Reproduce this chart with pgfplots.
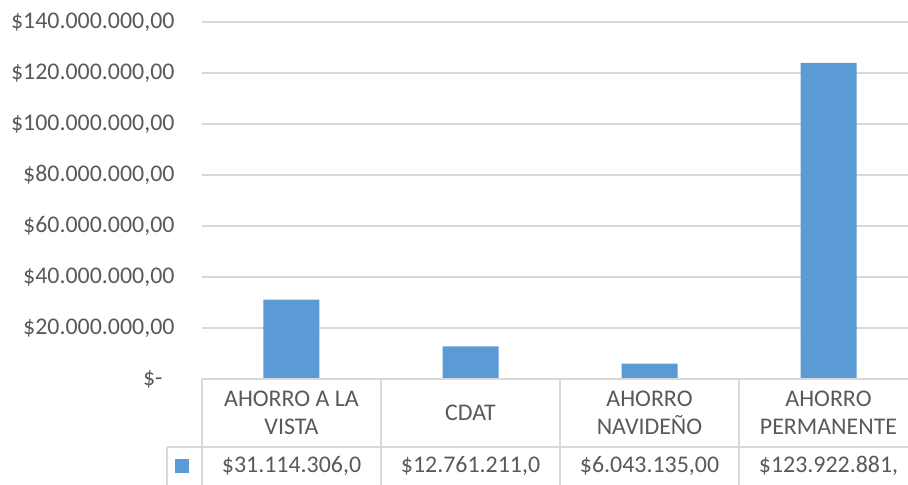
\documentclass[border=0pt]{standalone}
\usepackage{pgfplots}
\pgfplotsset{compat=1.18}
\usepackage{fontspec}
\setmainfont{Carlito}
\definecolor{barblue}{HTML}{5B9BD5}
\definecolor{gridgrey}{HTML}{D9D9D9}
\definecolor{txtgrey}{HTML}{595959}
\begin{document}
\begin{tikzpicture}
\clip (-202bp,-106bp) rectangle (706bp,379bp);
\begin{axis}[
  at={(0,0)}, anchor=south west,
  scale only axis,
  width=716bp, height=357bp,
  xmin=-0.5, xmax=3.5,
  ymin=0, ymax=140000000,
  scaled y ticks=false,
  axis line style={draw=none},
  major tick length=0pt,
  ymajorgrids,
  grid style={gridgrey, line width=1.3bp},
  ytick={0,20000000,40000000,60000000,80000000,100000000,120000000,140000000},
  yticklabels={\$-\hspace*{12bp},\$20.000.000{,}00,\$40.000.000{,}00,\$60.000.000{,}00,\$80.000.000{,}00,\$100.000.000{,}00,\$120.000.000{,}00,\$140.000.000{,}00},
  yticklabel style={font=\fontsize{24}{28}\selectfont, text=txtgrey, anchor=east, xshift=-24bp},
  xtick={0,1,2,3},
  xticklabels={AHORRO A LA\\VISTA, CDAT, AHORRO\\NAVIDEÑO, AHORRO\\PERMANENTE},
  xticklabel style={font=\fontsize{24}{28}\selectfont, text=txtgrey, anchor=center, align=center, yshift=-34bp},
  clip=false,
]
\addplot[ybar, bar width=56bp, bar shift=0pt, fill=barblue, draw=none]
  coordinates {(0,31114306) (1,12761211) (2,6043135) (3,123922881)};
\end{axis}
% data table grid
\draw[gridgrey, line width=1.3bp] (0,0) -- (716bp,0);
\draw[gridgrey, line width=1.3bp] (-35bp,-68bp) -- (716bp,-68bp);
\foreach \x in {0,179,358,537,716} \draw[gridgrey, line width=1.3bp] (\x bp,0) -- (\x bp,-110bp);
\draw[gridgrey, line width=1.3bp] (-35bp,-68bp) -- (-35bp,-110bp);
\fill[barblue] (-27bp,-80bp) rectangle (-13bp,-94bp);
\begin{scope}[every node/.style={font=\fontsize{24}{28}\selectfont, text=txtgrey, anchor=center}]
\node at (89.5bp,-87bp) {\$31.114.306,0};
\node at (268.5bp,-87bp) {\$12.761.211,0};
\node at (447.5bp,-87bp) {\$6.043.135,00};
\node at (626.5bp,-87bp) {\$123.922.881,};
\end{scope}
\end{tikzpicture}
\end{document}
